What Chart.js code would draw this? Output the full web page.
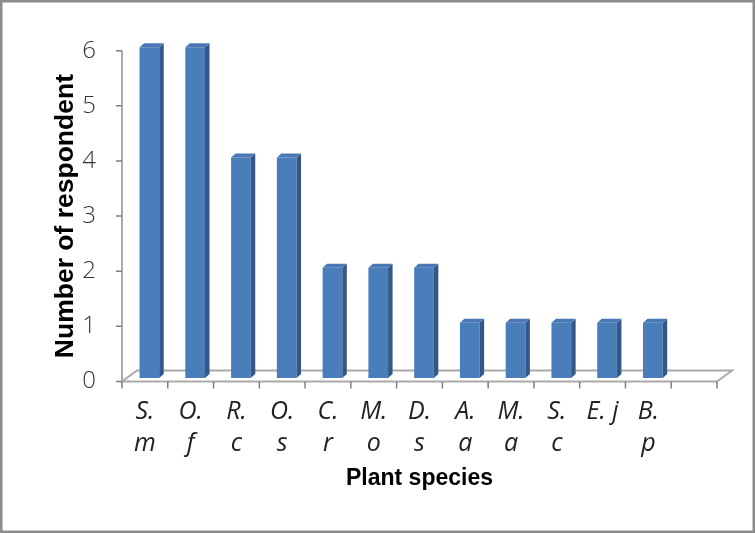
<!DOCTYPE html>
<html>
<head>
<meta charset="utf-8">
<script src="https://cdn.jsdelivr.net/npm/chart.js@4.4.1/dist/chart.umd.min.js"></script>
<style>
    html, body { margin: 0; padding: 0; background: #fff; }
    #wrap { width: 755px; height: 533px; }
</style>
</head>
<body>
<div id="wrap"><canvas id="chart" width="755" height="533"></canvas></div>
<script>
// ==================== DATOS ====================
const speciesLabels = [
    ['S.', 'm'], ['O.', 'f'], ['R.', 'c'], ['O.', 's'], ['C.', 'r'], ['M.', 'o'],
    ['D.', 's'], ['A.', 'a'], ['M.', 'a'], ['S.', 'c'], ['E. j', ''], ['B.', 'p'], ''
];
const respondents = [6, 6, 4, 4, 2, 2, 2, 1, 1, 1, 1, 1, null];
const yTicks = [0, 1, 2, 3, 4, 5, 6];

// ==================== ESTILO 3D ====================
const FLOOR_DX = 15, FLOOR_DY = -11;   // profundidad del suelo
const BAR_DX = 4.5, BAR_DY = -3.5;     // barras dentro del suelo
const SIDE_DX = 4.5, SIDE_DY = -4;     // caras lateral / superior

const excel3d = {
    id: 'excel3d',
    beforeDraw(chart) {
        const { ctx, chartArea: a, scales: { y } } = chart;
        const y0 = y.getPixelForValue(0);
        const slot = (a.right - a.left) / speciesLabels.length;

        ctx.save();
        ctx.fillStyle = '#fff';
        ctx.fillRect(0, 0, chart.width, chart.height);

        // borde exterior
        ctx.strokeStyle = '#8c8c8c';
        ctx.lineWidth = 2.5;
        ctx.strokeRect(1.25, 1.25, chart.width - 2.5, chart.height - 2.5);

        // suelo
        ctx.strokeStyle = '#aaaaaa';
        ctx.lineWidth = 2;
        ctx.beginPath();
        ctx.moveTo(a.left, y0);
        ctx.lineTo(a.right, y0);
        ctx.lineTo(a.right + FLOOR_DX, y0 + FLOOR_DY);
        ctx.lineTo(a.left + FLOOR_DX, y0 + FLOOR_DY);
        ctx.closePath();
        ctx.stroke();

        // eje Y
        ctx.beginPath();
        ctx.moveTo(a.left, y0);
        ctx.lineTo(a.left, y.getPixelForValue(yTicks[yTicks.length - 1]));
        ctx.stroke();

        // marcas
        ctx.strokeStyle = '#808080';
        ctx.lineWidth = 1.5;
        ctx.beginPath();
        yTicks.forEach(v => {
            const py = y.getPixelForValue(v);
            ctx.moveTo(a.left - 6, py);
            ctx.lineTo(a.left, py);
        });
        for (let i = 0; i <= speciesLabels.length; i++) {
            const px = a.left + i * slot;
            ctx.moveTo(px, y0);
            ctx.lineTo(px, y0 + 7);
        }
        ctx.stroke();
        ctx.restore();
    },
    beforeDatasetsDraw(chart) {
        chart.ctx.save();
        chart.ctx.translate(BAR_DX, BAR_DY);
    },
    afterDatasetsDraw(chart) {
        const ctx = chart.ctx;
        chart.getDatasetMeta(0).data.forEach((el, i) => {
            if (respondents[i] == null) return;
            const { x, y, base, width } = el.getProps(['x', 'y', 'base', 'width'], true);
            const l = x - width / 2, r = x + width / 2;
            // cara lateral
            ctx.fillStyle = '#34578a';
            ctx.beginPath();
            ctx.moveTo(r, y);
            ctx.lineTo(r + SIDE_DX, y + SIDE_DY);
            ctx.lineTo(r + SIDE_DX, base + SIDE_DY);
            ctx.lineTo(r, base);
            ctx.closePath();
            ctx.fill();
            // cara superior
            ctx.fillStyle = '#4a78b4';
            ctx.beginPath();
            ctx.moveTo(l, y);
            ctx.lineTo(l + SIDE_DX, y + SIDE_DY);
            ctx.lineTo(r + SIDE_DX, y + SIDE_DY);
            ctx.lineTo(r, y);
            ctx.closePath();
            ctx.fill();
        });
        ctx.restore();
    }
};

// ==================== CHART ====================
const tickFamily = "'Open Sans', 'Liberation Sans', sans-serif";

new Chart(document.getElementById('chart').getContext('2d'), {
    type: 'bar',
    data: {
        labels: speciesLabels,
        datasets: [{
            data: respondents,
            backgroundColor: '#4a7ebb',
            borderWidth: 0,
            categoryPercentage: 1,
            barPercentage: 0.43,
            clip: false
        }]
    },
    options: {
        responsive: false,
        animation: false,
        events: [],
        layout: { padding: { left: 40, right: 38, top: 50.7, bottom: 0 } },
        plugins: { legend: { display: false }, tooltip: { enabled: false } },
        scales: {
            x: {
                grid: { display: false, drawTicks: false },
                border: { display: false },
                ticks: {
                    font: { family: tickFamily, size: 25, weight: 'normal', style: 'italic', lineHeight: 1.28 },
                    color: '#222',
                    padding: 14,
                    maxRotation: 0,
                    autoSkip: false
                },
                title: {
                    display: true,
                    text: 'Plant species',
                    font: { family: "'Liberation Sans', sans-serif", size: 23, weight: 'bold' },
                    color: '#000',
                    padding: { top: 0, bottom: 41 }
                },
                afterFit(scale) { scale.height = 151.5; }
            },
            y: {
                min: 0,
                max: 6,
                grid: { display: false, drawTicks: false },
                border: { display: false },
                ticks: {
                    stepSize: 1,
                    font: { family: tickFamily, size: 24, weight: 300, lineHeight: 1.2 },
                    color: '#333',
                    padding: 26
                },
                title: {
                    display: true,
                    text: 'Number of respondent',
                    font: { family: "'Liberation Sans', sans-serif", size: 26.5, weight: 'bold' },
                    color: '#000',
                    padding: { top: 10, bottom: 0 }
                },
                afterFit(scale) { scale.width = 82; }
            }
        }
    },
    plugins: [excel3d]
});
</script>
</body>
</html>
